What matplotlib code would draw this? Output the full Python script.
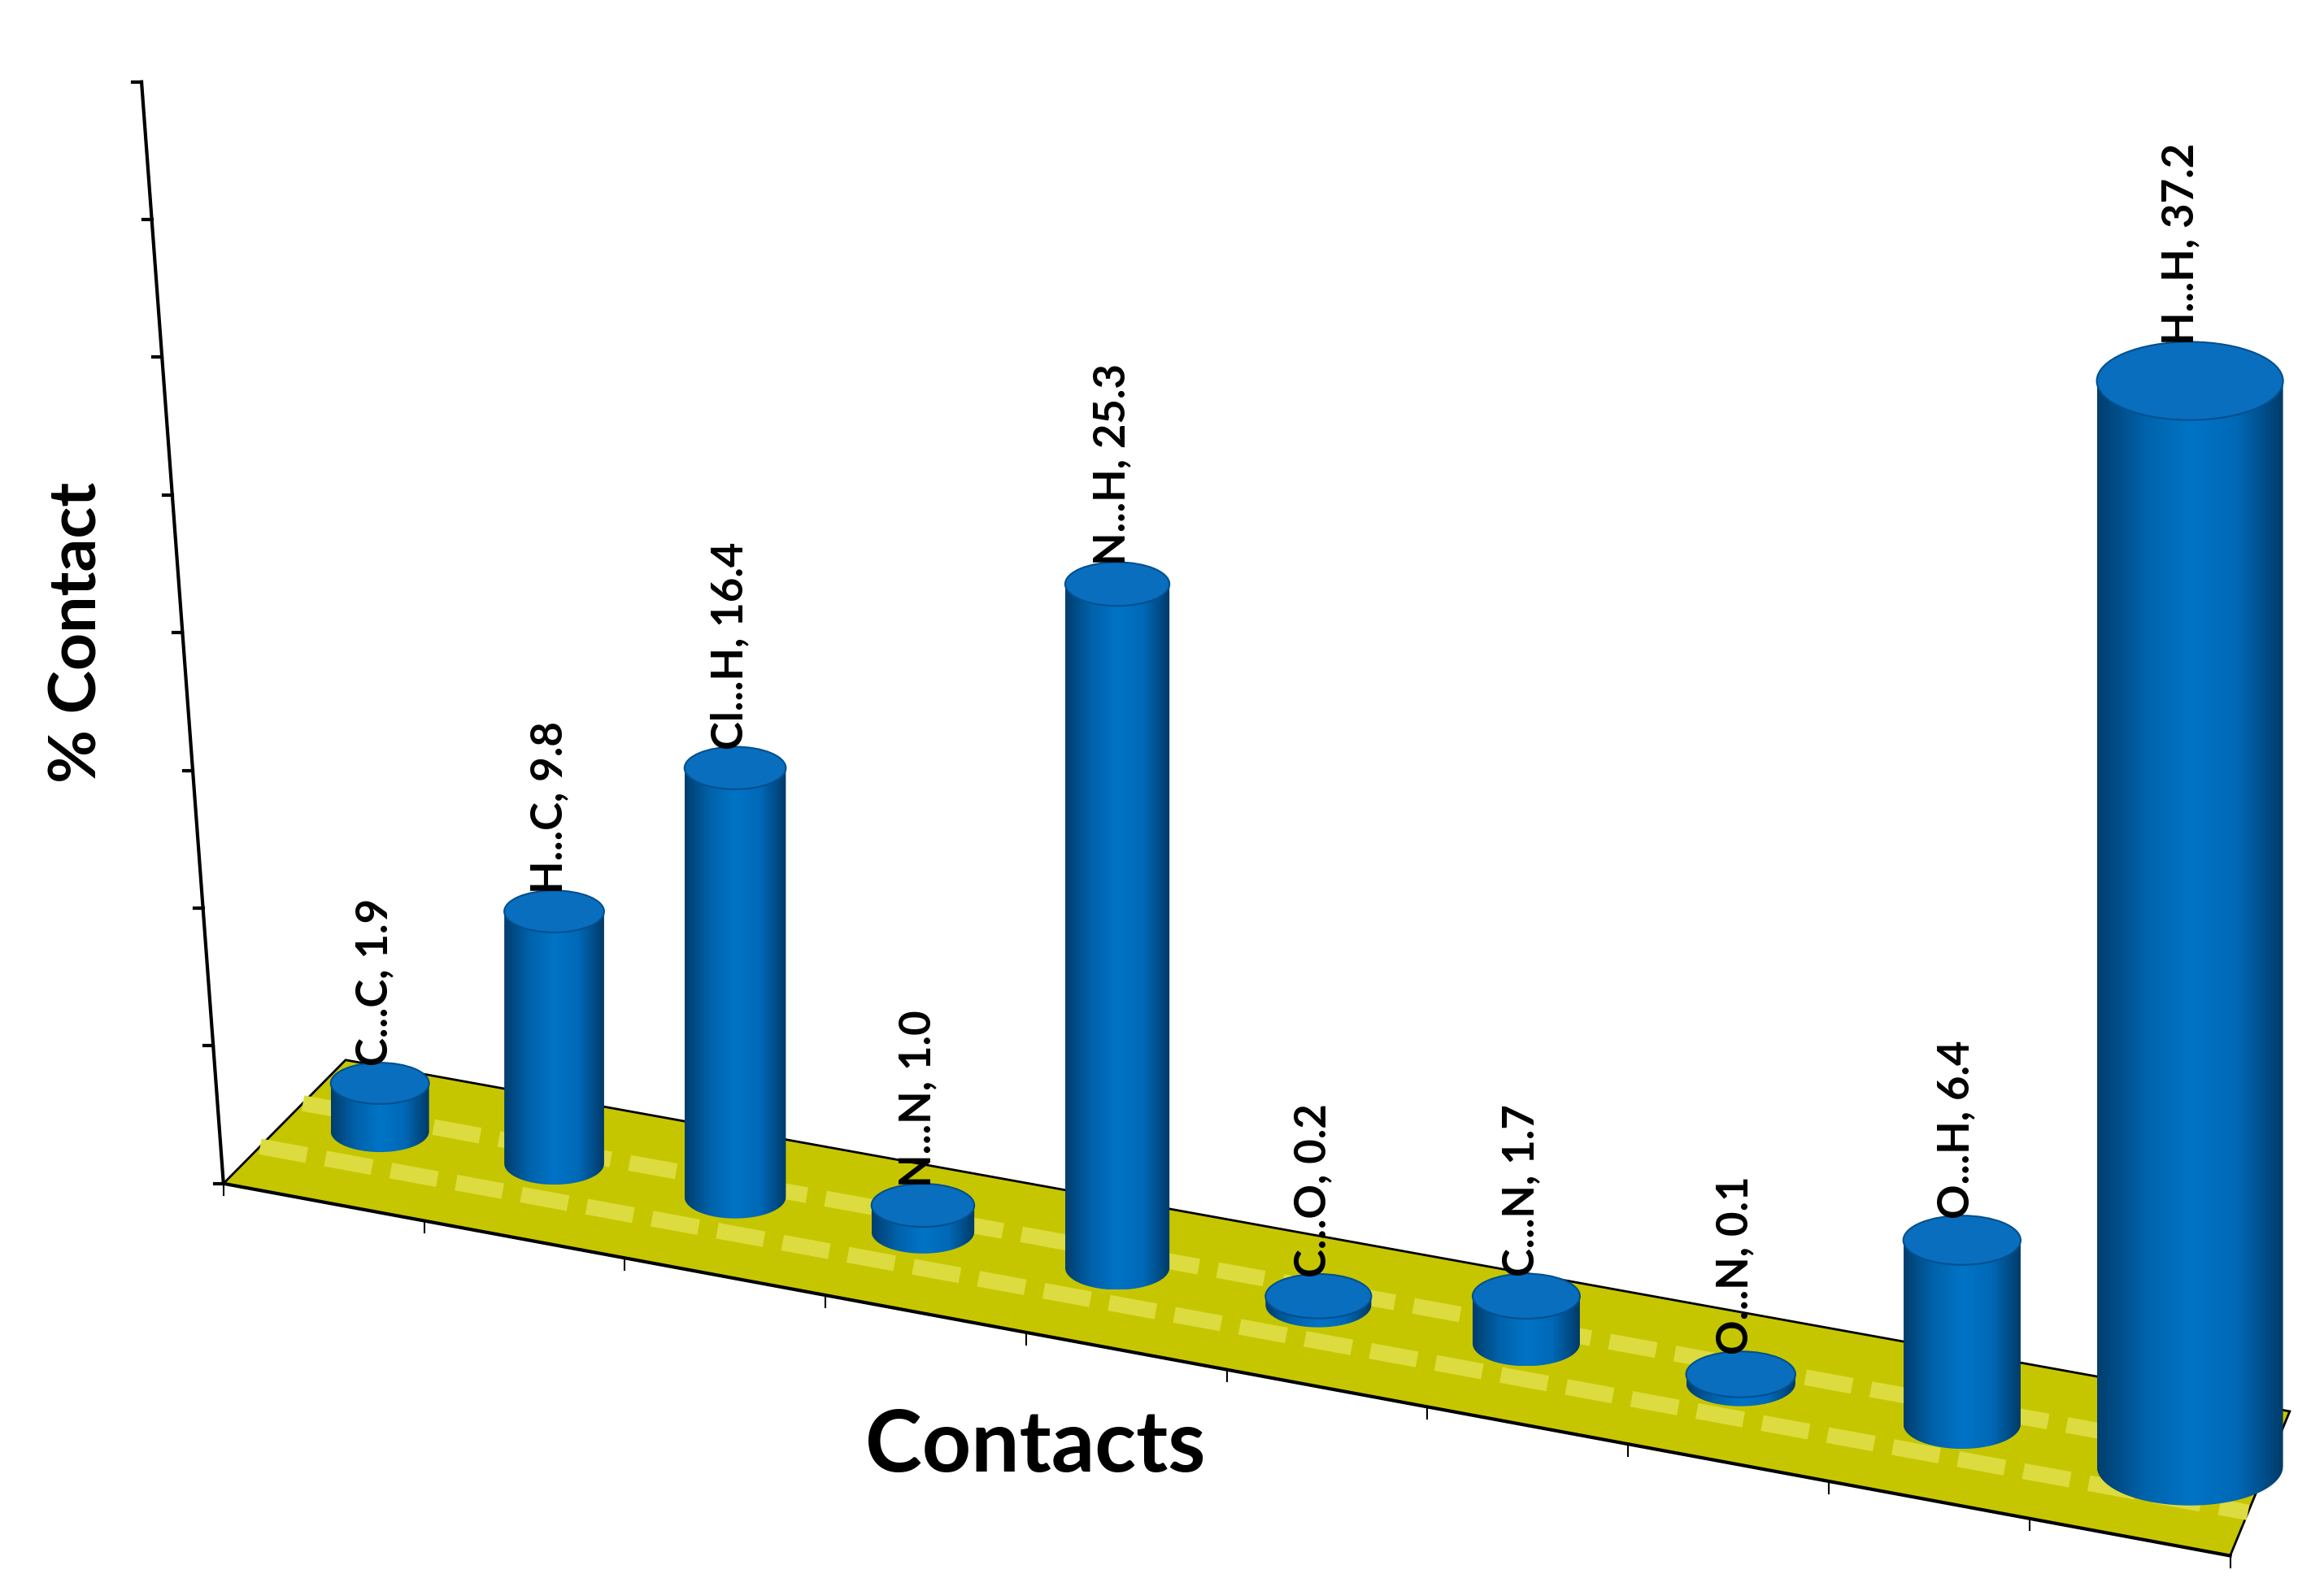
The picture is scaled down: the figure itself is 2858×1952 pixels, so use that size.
import numpy as np
import matplotlib.pyplot as plt
from matplotlib.patches import Polygon, Ellipse, PathPatch
from matplotlib.path import Path

contacts = ["C...C", "H...C", "Cl...H", "N...N", "N...H", "C...O", "C...N", "O...N", "O...H", "H...H"]
values = [1.9, 9.8, 16.4, 1.0, 25.3, 0.2, 1.7, 0.1, 6.4, 37.2]

plt.rcParams['font.family'] = ['Lato', 'DejaVu Sans']

W, H = 1560, 1066
fig = plt.figure(figsize=(28.58, 19.52), dpi=100)
ax = fig.add_axes([0, 0, 1, 1])
ax.set_xlim(0, W)
ax.set_ylim(H, 0)
ax.axis("off")

# simple perspective: position along the floor by index
n = len(values)
def proj(i):
    t = i / (n - 1)
    u = 0.85 * t + 0.15 * t ** 2
    cx = 255 + u * (1470 - 255)
    cy = 760 + u * (985 - 760)
    scale = 17.0 + t * 2.6      # px per % unit
    width = 66 + 9 * t + 50 * t ** 20
    return cx, cy, scale, width

# floor
fl = [(150, 795), (232, 712), (1537, 948), (1497, 1045)]
ax.add_patch(Polygon(fl, closed=True, facecolor="#C6C600", edgecolor="black", lw=2, zorder=1))
for d in (0.3, 0.65):
    x0 = fl[0][0] + d * (fl[1][0] - fl[0][0])
    y0 = fl[0][1] + d * (fl[1][1] - fl[0][1])
    x1 = fl[3][0] + d * (fl[2][0] - fl[3][0])
    y1 = fl[3][1] + d * (fl[2][1] - fl[3][1])
    ax.plot([x0, x1], [y0, y1], color="#DCDC40", lw=14, dashes=(3, 1.2), zorder=1,
            solid_capstyle="butt")

# front axis and ticks
ax.plot([150, 1497], [795, 1045], color="black", lw=3, zorder=2)
for k in range(11):
    t = k / 10
    x, y = 150 + t * (1497 - 150), 795 + t * (1045 - 795)
    ax.plot([x, x], [y, y + 8], color="black", lw=1.5, zorder=2)

# vertical axis
ax.plot([150, 95], [795, 55], color="black", lw=3, zorder=2)
for k in range(9):
    t = k / 8
    x, y = 150 + t * (95 - 150), 795 + t * (55 - 795)
    ax.plot([x - 6, x], [y, y], color="black", lw=3, zorder=2)

cmap = plt.matplotlib.colors.LinearSegmentedColormap.from_list(
    "cyl", ["#003E6E", "#0062AA", "#0074C6", "#0068B6", "#003A68"])
grad = np.linspace(0, 1, 256).reshape(1, -1)

for i, (lab, v) in enumerate(zip(contacts, values)):
    cx, cy, s, w = proj(i)
    eh = w * 0.42
    top = cy - max(v * s, 6)
    z = 3 + i
    verts = [(cx - w / 2, top), (cx - w / 2, cy)]
    a = np.linspace(np.pi, 0, 40)
    verts += [(cx + w / 2 * np.cos(t), cy + eh / 2 * np.sin(t)) for t in a]
    verts += [(cx + w / 2, top), (cx - w / 2, top)]
    body = PathPatch(Path(verts), facecolor="none", edgecolor="none", zorder=z)
    ax.add_patch(body)
    im = ax.imshow(grad, extent=[cx - w / 2, cx + w / 2, cy + eh / 2, top], cmap=cmap,
                   aspect="auto", zorder=z)
    im.set_clip_path(body)
    ax.add_patch(Ellipse((cx, top), w, eh, facecolor="#0A6EBE", edgecolor="#00508F",
                         lw=1.5, zorder=z + 0.5))
    ax.text(cx - w * 0.05, top - eh / 2 + 2, f"{lab}, {v:.1f}", rotation=90,
            ha="center", va="bottom", fontsize=38, fontweight="bold", zorder=20)

ax.text(52, 425, "% Contact", rotation=90, ha="center", va="center",
        fontsize=58, fontweight="bold")
ax.text(695, 972, "Contacts", ha="center", va="center", fontsize=76, fontweight="bold")

fig.savefig("out.png", dpi=100, facecolor="white")
